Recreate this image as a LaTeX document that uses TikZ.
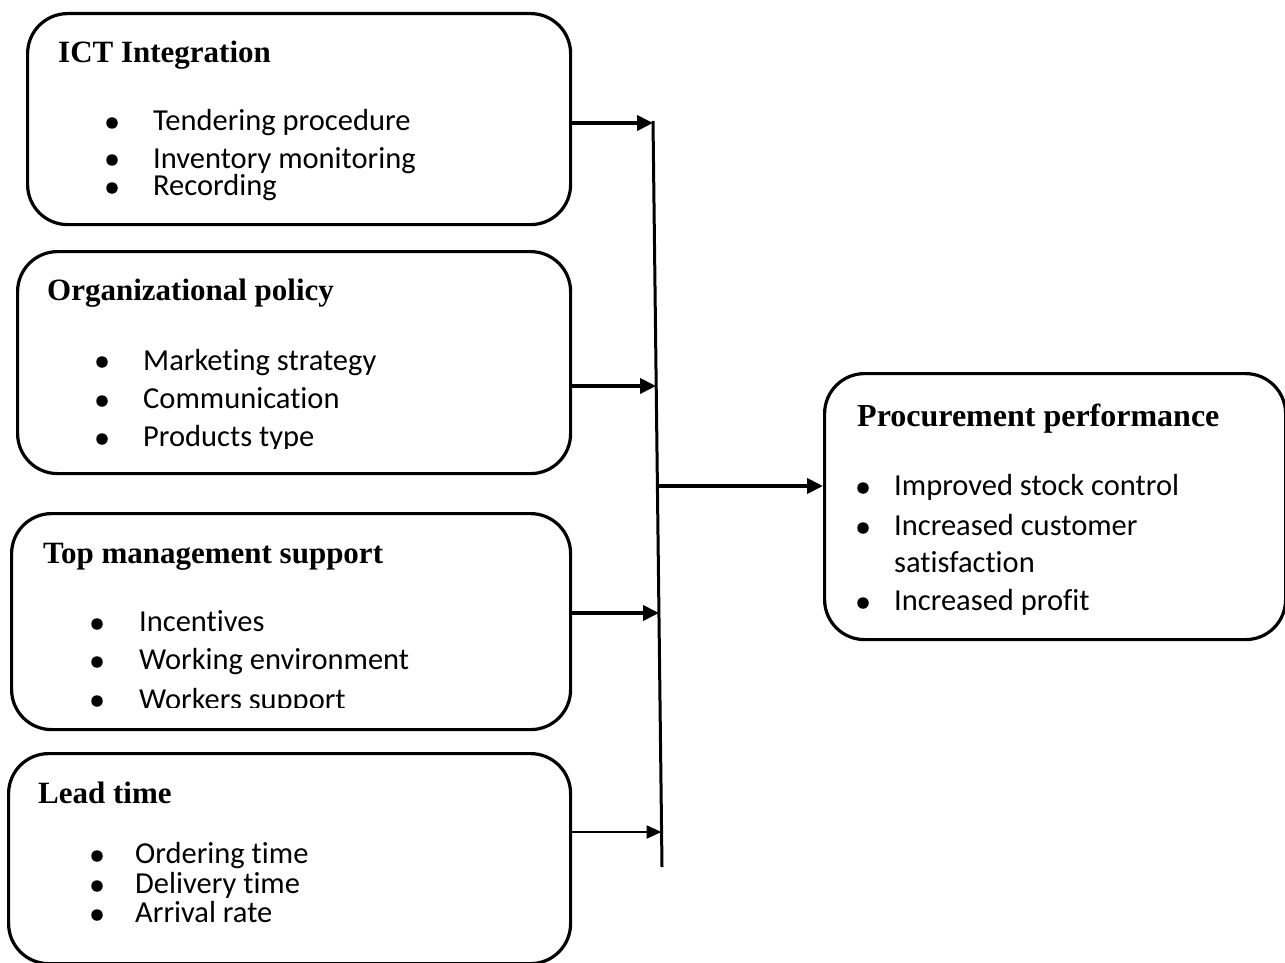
\documentclass[tikz,border=0pt]{standalone}
\usepackage{fontspec}
\setmainfont{Liberation Serif}
\newfontfamily\bodyfont[Ligatures={NoCommon}]{Carlito}
\usetikzlibrary{arrows.meta}
\begin{document}
\begin{tikzpicture}[x=1pt,y=-1pt,
  box/.style={draw, line width=3.2pt, rounded corners=40pt, inner sep=0pt, anchor=north west},
  ttl/.style={anchor=base west, inner sep=0pt, font=\fontsize{31}{37}\selectfont\bfseries},
  itm/.style={anchor=base west, inner sep=0pt, font=\bodyfont\fontsize{30.5}{36}\selectfont},
  bul/.style={circle, fill, inner sep=0pt, minimum size=11.5pt},
  arr/.style={line width=3.8pt, -{Triangle[length=16pt,width=15pt]}},
  thinarr/.style={line width=2.2pt, -{Triangle[length=15pt,width=13pt]}},
  busline/.style={line width=3pt},
]
\useasboundingbox (0,0) rectangle (1285,963);

% boxes
\node[box, minimum width=543pt, minimum height=211pt] (ict) at (26,12) {};
\node[box, minimum width=553pt, minimum height=222pt] (pol) at (16,250) {};
\node[box, minimum width=559pt, minimum height=216pt] (top) at (10,512) {};
\node[box, minimum width=562pt, minimum height=210pt] (lead) at (7,752) {};
\node[box, minimum width=461pt, minimum height=266pt] (proc) at (823,372) {};

% box 1
\node[ttl] (t1) at (58,63) {ICT Integration};
\node[bul] (d11) at (112,123) {};
\node[itm] (i11) at (153,131) {Tendering procedure};
\node[bul] (d12) at (112,160) {};
\node[itm] (i12) at (153,168) {Inventory monitoring};
\node[bul] (d13) at (112,188) {};
\begin{scope}
  \clip (150,160) rectangle (500,200);
  \node[itm] (i13) at (153,195) {Recording};
\end{scope}

% box 2
\node[ttl] (t2) at (47,300) {Organizational policy};
\node[bul] (d21) at (102,362) {};
\node[itm] (i21) at (143,370) {Marketing strategy};
\node[bul] (d22) at (102,401) {};
\node[itm] (i22) at (143,408) {Communication};
\node[bul] (d23) at (102,439) {};
\begin{scope}
  \clip (140,410) rectangle (500,448);
  \node[itm] (i23) at (143,446) {Products type};
\end{scope}

% box 3
\node[ttl] (t3) at (43,563) {Top management support};
\node[bul] (d31) at (97,624) {};
\node[itm] (i31) at (139,631) {Incentives};
\node[bul] (d32) at (97,662) {};
\node[itm] (i32) at (139,669) {Working environment};
\node[bul] (d33) at (97,701) {};
\begin{scope}
  \clip (135,670) rectangle (500,707);
  \node[itm] (i33) at (139,709) {Workers support};
\end{scope}

% box 4
\node[ttl] (t4) at (38,803) {Lead time};
\node[bul] (d41) at (97,856) {};
\node[itm] (i41) at (135,863) {Ordering time};
\node[bul] (d42) at (97,886) {};
\node[itm] (i42) at (135,893) {Delivery time};
\node[bul] (d43) at (97,915) {};
\node[itm] (i43) at (135,922) {Arrival rate};

% box 5
\node[ttl, font=\fontsize{32}{38}\selectfont\bfseries] (t5) at (857,426) {Procurement performance};
\node[bul] (d51) at (863,488) {};
\node[itm] (i51) at (894,495) {Improved stock control};
\node[bul] (d52) at (863,528) {};
\node[itm] (i52) at (894,535) {Increased customer};
\node[itm] (i52b) at (894,572) {satisfaction};
\node[bul] (d53) at (863,603) {};
\node[itm] (i53) at (894,610) {Increased profit};

% bus
\coordinate (bt) at (653,121);
\coordinate (bb) at (662,867);
\coordinate (b1) at (653,123);
\coordinate (b2) at (656,386);
\coordinate (b3) at (659,613);
\coordinate (b4) at (661.5,832);
\coordinate (bm) at (657,486);
\draw[busline] (bt) -- (bb);

\draw[arr] (ict.east |- b1) -- (b1);
\draw[arr] (pol.east |- b2) -- (b2);
\draw[arr] (top.east |- b3) -- (b3);
\draw[thinarr] (lead.east |- b4) -- (b4);
\draw[arr] (bm) -- (proc.west |- bm);
\end{tikzpicture}
\end{document}
